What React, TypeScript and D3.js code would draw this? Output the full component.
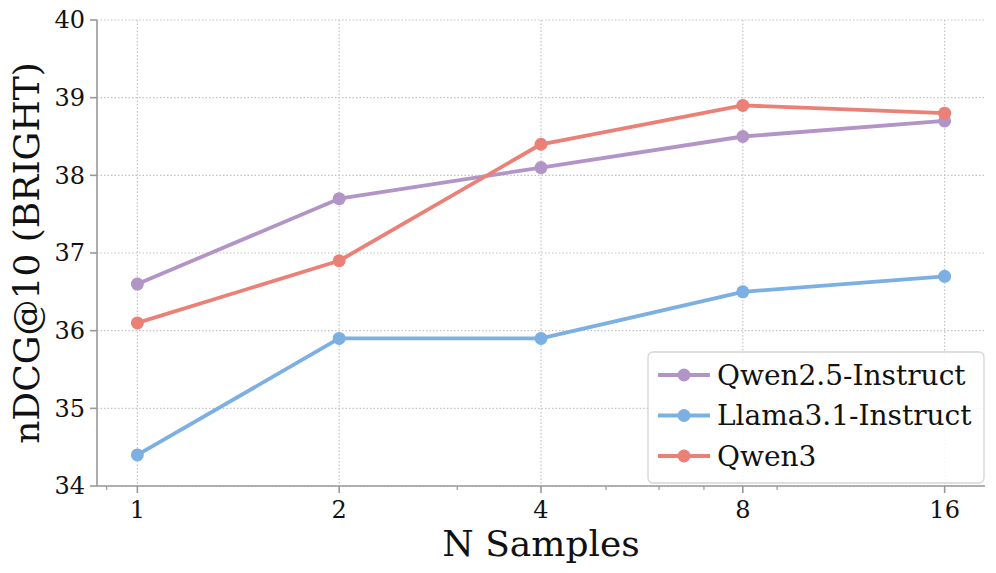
import React from 'react';
import * as d3 from 'd3';

const samples = [1, 2, 4, 8, 16];
const qwen25 = [36.6, 37.7, 38.1, 38.5, 38.7];
const llama31 = [34.4, 35.9, 35.9, 36.5, 36.7];
const qwen3 = [36.1, 36.9, 38.4, 38.9, 38.8];
const yTicks = [34, 35, 36, 37, 38, 39, 40];
const minorX = [0.9, 3, 5, 6, 7, 9];

const seriesList = [
  { name: 'Qwen2.5-Instruct', values: qwen25, color: '#b294c6' },
  { name: 'Llama3.1-Instruct', values: llama31, color: '#7cafe2' },
  { name: 'Qwen3', values: qwen3, color: '#eb8077' },
];

const width = 996;
const height = 573;
const margin = { top: 20, right: 11, bottom: 87, left: 97 };
const font = '"DejaVu Serif", serif';

const App: React.FC = () => {
  const innerW = width - margin.left - margin.right;
  const innerH = height - margin.top - margin.bottom;

  // log scale, padded 5% of the log range on each side like matplotlib
  const x = d3.scaleLog().base(2).domain([Math.pow(2, -0.2), Math.pow(2, 4.2)]).range([0, innerW]);
  const y = d3.scaleLinear().domain([34, 40]).range([innerH, 0]);

  const line = d3.line<number>()
    .x((_, i) => x(samples[i]))
    .y(d => y(d));

  const axisColor = '#999';
  const gridColor = '#c4c4c4';

  // legend box
  const lgX = 648 - margin.left;
  const lgY = 352 - margin.top;
  const lgW = 336;
  const lgH = 131;

  return (
    <div style={{ position: 'fixed', left: 0, top: 0 }}>
      <svg width={width} height={height} style={{ display: 'block', background: '#fff' }}>
        <g transform={`translate(${margin.left},${margin.top})`}>
          {/* grid */}
          {samples.map(s => (
            <line key={'gx' + s} x1={x(s)} x2={x(s)} y1={0} y2={innerH}
              stroke={gridColor} strokeWidth={1.2} strokeDasharray="1.5,2" />
          ))}
          {yTicks.map(t => (
            <line key={'gy' + t} x1={0} x2={innerW} y1={y(t)} y2={y(t)}
              stroke={gridColor} strokeWidth={1.2} strokeDasharray="1.5,2" />
          ))}

          {/* axes */}
          <line x1={0} x2={0} y1={0} y2={innerH} stroke={axisColor} strokeWidth={1.6} />
          <line x1={0} x2={innerW} y1={innerH} y2={innerH} stroke={axisColor} strokeWidth={1.6} />
          {yTicks.map(t => (
            <g key={'yt' + t} transform={`translate(0,${y(t)})`}>
              <line x1={-7} x2={0} stroke={axisColor} strokeWidth={1.6} />
              <text x={-12} dy="0.35em" textAnchor="end" fontFamily={font} fontSize={24} fill="#111">{t}</text>
            </g>
          ))}
          {samples.map(s => (
            <g key={'xt' + s} transform={`translate(${x(s)},${innerH})`}>
              <line y1={0} y2={7} stroke={axisColor} strokeWidth={1.6} />
              <text y={32} textAnchor="middle" fontFamily={font} fontSize={24} fill="#111">{s}</text>
            </g>
          ))}
          {minorX.map(s => (
            <line key={'mx' + s} x1={x(s)} x2={x(s)} y1={innerH} y2={innerH + 4}
              stroke={axisColor} strokeWidth={1.2} />
          ))}

          {/* axis labels */}
          <text x={innerW / 2} y={innerH + 70} textAnchor="middle" fontFamily={font} fontSize={36} fill="#111">N Samples</text>
          <text transform={`translate(${-58},${innerH / 2}) rotate(-90)`} textAnchor="middle"
            fontFamily={font} fontSize={36} fill="#111">nDCG@10 (BRIGHT)</text>

          {/* series */}
          {seriesList.map(s => (
            <g key={s.name}>
              <path d={line(s.values) || ''} fill="none" stroke={s.color} strokeWidth={3.8} strokeLinejoin="round" />
              {s.values.map((v, i) => (
                <circle key={i} cx={x(samples[i])} cy={y(v)} r={6.5} fill={s.color} />
              ))}
            </g>
          ))}

          {/* legend */}
          <rect x={lgX} y={lgY} width={lgW} height={lgH} rx={5} fill="#fff" fillOpacity={0.85}
            stroke="#d5d5d5" strokeWidth={1.3} />
          {seriesList.map((s, i) => {
            const cy = lgY + 23 + i * 40.5;
            return (
              <g key={'lg' + s.name}>
                <line x1={lgX + 10} x2={lgX + 62} y1={cy} y2={cy} stroke={s.color} strokeWidth={3.8} />
                <circle cx={lgX + 36} cy={cy} r={6.5} fill={s.color} />
                <text x={lgX + 69} y={cy} dy="0.35em" fontFamily={font} fontSize={28} fill="#111">{s.name}</text>
              </g>
            );
          })}
        </g>
      </svg>
    </div>
  );
};

export default App;
